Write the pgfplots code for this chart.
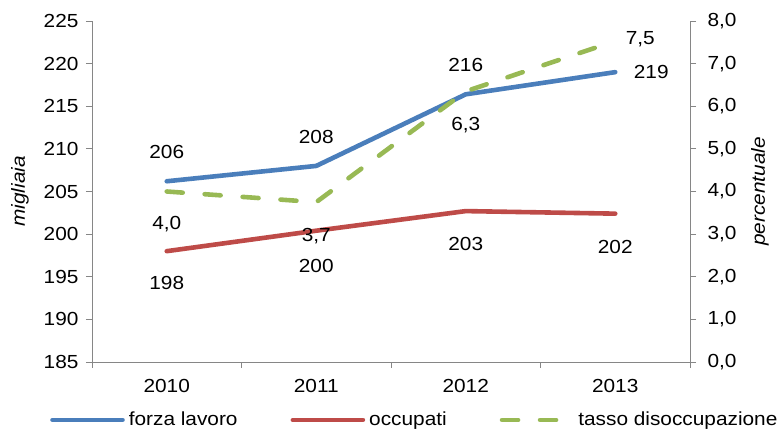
\documentclass[border=0pt]{standalone}
\usepackage{fontspec}
\setmainfont{Liberation Sans}[FakeStretch=1.1]
\usepackage{pgfplots}
\pgfplotsset{compat=1.18}

\definecolor{cforza}{HTML}{4A7EBB}
\definecolor{cocc}{HTML}{BE4B48}
\definecolor{ctasso}{HTML}{98B954}
\definecolor{caxis}{HTML}{868686}
\newcommand\chartfont{\fontsize{19}{22}\selectfont}

% x = 0..3 for 2010..2013; lab = printed label; dx/dy = label offset in bp
\pgfplotstableread{
x y lab dx dy
0 206.2 206 0 29
1 208.0 208 0 29
2 216.4 216 0 29
3 219.0 219 36 0
}\forza
\pgfplotstableread{
x y lab dx dy
0 198.0 198 0 -32
1 200.4 200 0 -35
2 202.7 203 0 -33
3 202.4 202 0 -33
}\occupati
\pgfplotstableread{
x y lab dx dy
0 4.0 4,0 0 -33
1 3.75 3,7 0 -34
2 6.35 6,3 0 -34
3 7.53 7,5 25 2
}\tasso

\pgfplotsset{
  base/.style={scale only axis, width=598bp, height=341bp,
    xmin=-0.5, xmax=3.5, clip=false,
    /pgf/number format/assume math mode=true,
    tick label style={font=\chartfont},
    label style={font=\chartfont\itshape},
    axis line style={caxis, line width=0.8bp},
    tick style={caxis, line width=0.8bp},
    tick align=outside, major tick length=6bp, minor tick length=6bp},
  lab/.style={nodes near coords, point meta=explicit symbolic,
    visualization depends on={\thisrow{dx}\as\dx},
    visualization depends on={\thisrow{dy}\as\dy},
    every node near coord/.append style={anchor=center, text=black,
      font=\chartfont, xshift=\dx bp, yshift=\dy bp}},
  serie/.style={line width=4.6bp, line cap=round, line join=round},
}

\begin{document}
\chartfont
\begin{tikzpicture}
\begin{axis}[base,
  axis x line*=bottom, axis y line*=left,
  ymin=185, ymax=225, ytick={185,190,...,225},
  xtick={0,1,2,3}, xticklabels={2010,2011,2012,2013},
  xticklabel style={yshift=-5bp},
  yticklabel style={xshift=-1bp},
  minor xtick={-0.5,0.5,1.5,2.5,3.5},
  major x tick style={draw=none},
  ylabel={migliaia},
  ylabel style={at={(axis description cs:-0.1204,0.5)}, anchor=center}]
\addplot[serie, cforza, lab] table[x=x, y=y, meta=lab] {\forza};
\addplot[serie, cocc, lab] table[x=x, y=y, meta=lab] {\occupati};
\end{axis}
\begin{axis}[base,
  axis x line=none, axis y line*=right,
  ymin=0, ymax=8, ytick={0,1,...,8},
  yticklabel style={xshift=5bp, /pgf/number format/.cd, fixed, fixed zerofill,
    precision=1, use comma},
  ylabel={percentuale},
  ylabel style={at={(axis description cs:1.117,0.5)}, anchor=center},
  legend columns=3, legend cell align=left,
  legend image code/.code={\draw[#1] (0bp,0bp) -- (70bp,0bp);},
  legend style={draw=none, fill=none, inner sep=0pt, font=\chartfont,
    at={(axis description cs:-0.0702,-0.170)}, anchor=west,
    nodes={inner xsep=0pt, inner ysep=2pt},
    /tikz/every odd column/.append style={column sep=4bp},
    /tikz/every even column/.append style={column sep=53bp}}]
\addlegendimage{serie, cforza}
\addlegendentry{forza lavoro}
\addlegendimage{serie, cocc}
\addlegendentry{occupati}
\addlegendimage{serie, ctasso, dash pattern=on 16bp off 22bp}
\addlegendentry{tasso disoccupazione}
\addplot[serie, ctasso, dash pattern=on 16bp off 22bp, lab, forget plot]
  table[x=x, y=y, meta=lab] {\tasso};
\coordinate (sw) at (rel axis cs:0,0);
\coordinate (ne) at (rel axis cs:1,1);
\end{axis}
\pgfresetboundingbox
\path[use as bounding box] ([xshift=-92bp,yshift=-70bp]sw) rectangle ([xshift=91bp,yshift=21bp]ne);
\end{tikzpicture}
\end{document}
